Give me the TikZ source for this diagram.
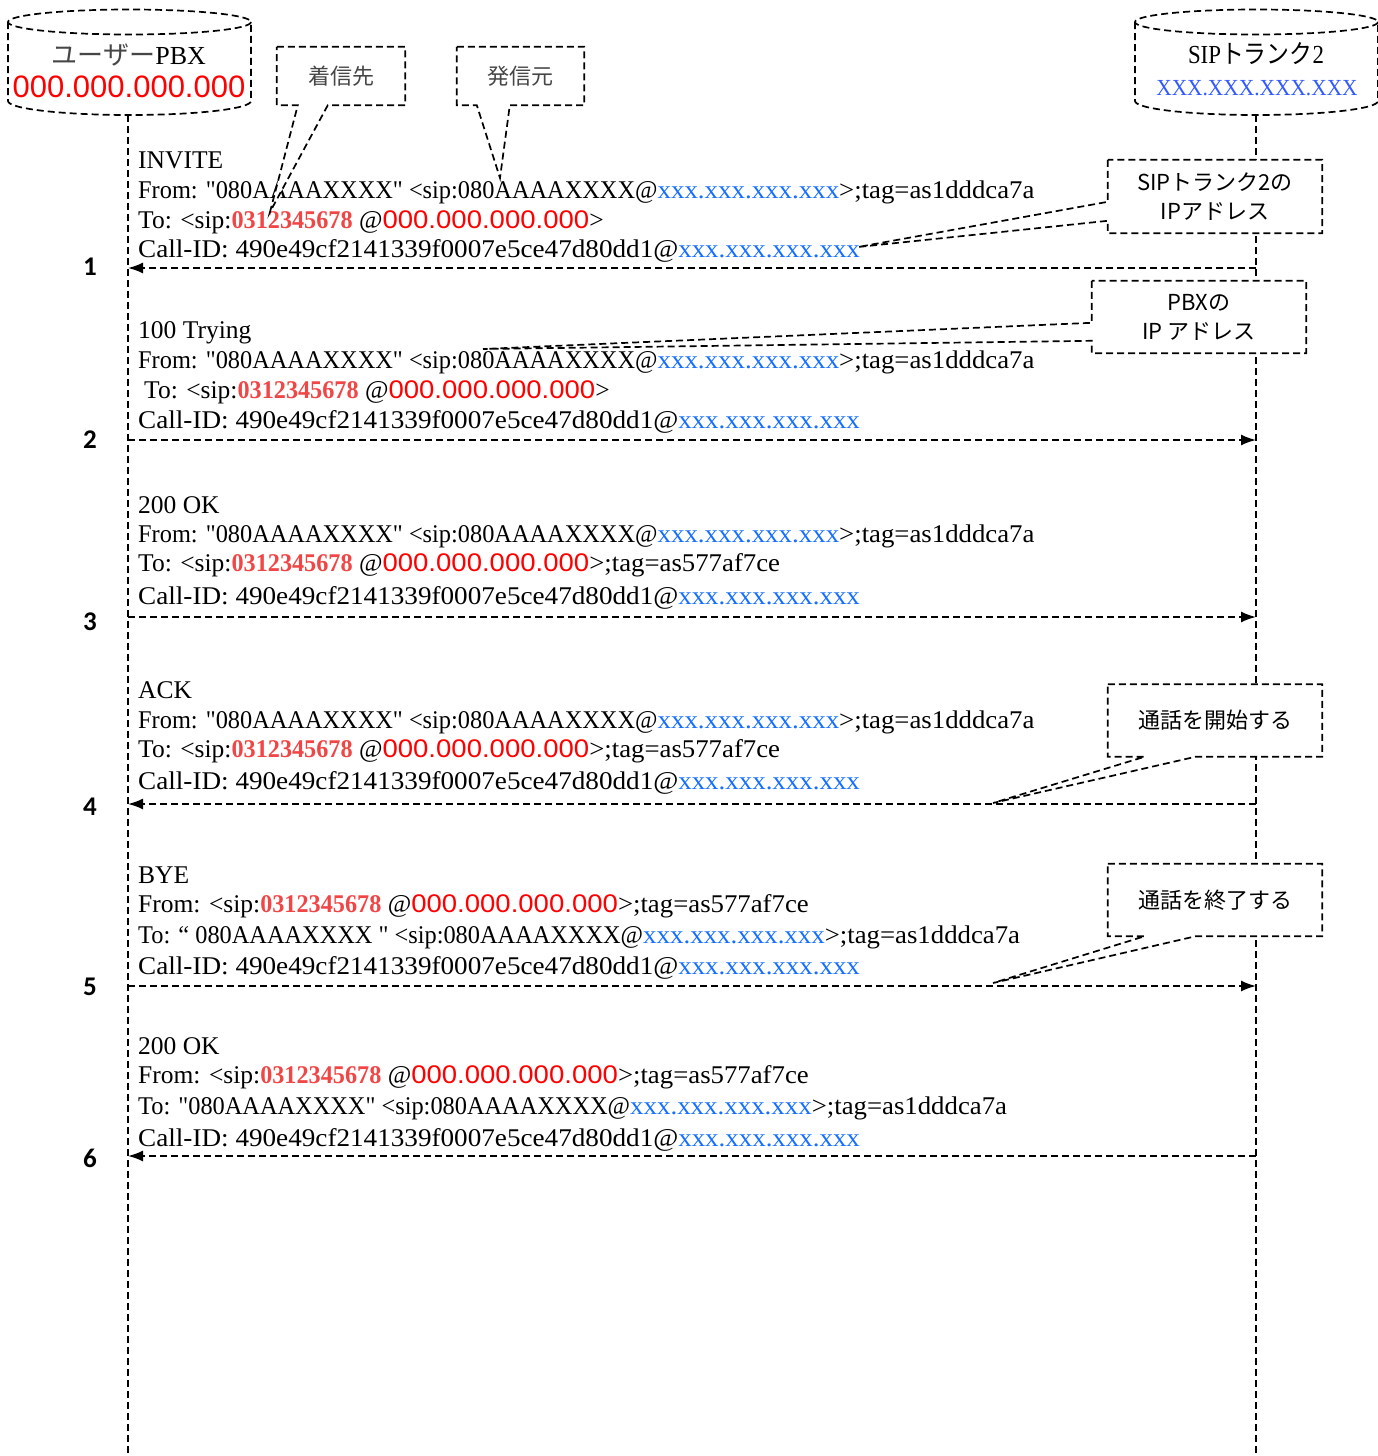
\documentclass[tikz,border=0pt]{standalone}
\usepackage{fontspec}
\setmainfont{Liberation Serif}
\setsansfont{Liberation Sans}
\newfontfamily\jpfont{Noto Sans CJK JP}
\newfontfamily\lblfont{Carlito}
\usetikzlibrary{arrows.meta,calc}
\definecolor{ipred}{RGB}{255,0,0}
\definecolor{numred}{RGB}{240,70,70}
\definecolor{sipblue}{RGB}{20,110,255}
\definecolor{cylblue}{RGB}{50,90,255}
\definecolor{jgray}{RGB}{70,70,70}
\newcommand\dq{\textquotedbl}
\newcommand\bip[1]{\scalebox{1.055}[1]{\textcolor{sipblue}{#1}}}
\newcommand\rnum[1]{\scalebox{0.95}[1]{\bfseries\color{numred}#1}}
\newcommand\rip[1]{\scalebox{1.08}[1]{\sffamily\color{ipred}#1}}
\newcommand\capsq[1]{\scalebox{0.955}[1]{#1}}
\newcommand\tg[1]{\scalebox{1.05}[1]{#1}}
\newcommand\lineFromA{\capsq{From: \dq 080AAAAXXXX\dq{} <sip:080AAAAXXXX@}\bip{xxx.xxx.xxx.xxx}\tg{>;tag=as1dddca7a}}
\newcommand\lineToA{To: <sip:\rnum{0312345678} @\rip{000.000.000.000}>}
\newcommand\lineToB{To: <sip:\rnum{0312345678} @\rip{000.000.000.000}\tg{>;tag=as577af7ce}}
\newcommand\lineFromB{From: <sip:\rnum{0312345678} @\rip{000.000.000.000}\tg{>;tag=as577af7ce}}
\newcommand\lineCallID{\scalebox{1.065}[1]{Call-ID: 490e49cf2141339f0007e5ce47d80dd1@}\bip{xxx.xxx.xxx.xxx}}
\begin{document}
\begin{tikzpicture}[x=1pt,y=-1pt,
  dline/.style={dash pattern=on 7pt off 4pt, line width=1.7pt},
  msg/.style={anchor=base west, inner sep=0pt, font=\fontsize{25.5}{30}\selectfont},
  numlbl/.style={inner sep=0pt, font=\lblfont\bfseries\fontsize{27}{30}\selectfont},
  geom/.style={inner sep=0pt, draw=none},
  callout/.style={dline, fill=white},
  ctext/.style={inner sep=0pt, align=center, font=\jpfont\fontsize{22}{29}\selectfont},
  msgarrow/.style={dline, -{Latex[length=15pt,width=11pt]}}]
\useasboundingbox (0,0) rectangle (1377,1456);

% lifelines
\coordinate (Ltop) at (128,115);
\coordinate (Lbot) at (128,1456);
\coordinate (Rtop) at (1256,115);
\coordinate (Rbot) at (1256,1456);
\draw[dline] (Ltop) -- (Lbot);
\draw[dline] (Rtop) -- (Rbot);

% cylinders
\draw[dline, fill=white] (8,22) -- (8,101) arc[start angle=180, end angle=0, x radius=121.5, y radius=14] -- (251,22);
\draw[dline] (129.5,22) ellipse [x radius=121.5, y radius=12.5];
\draw[dline, fill=white] (1135,22) -- (1135,101) arc[start angle=180, end angle=0, x radius=121.5, y radius=14] -- (1378,22);
\draw[dline] (1256.5,22) ellipse [x radius=121.5, y radius=12.5];

\node[inner sep=0pt, font=\fontsize{26}{30}\selectfont] (pbxT) at (129,55) {{\jpfont\color{jgray}ユーザー}PBX};
\node[inner sep=0pt, font=\fontsize{31}{34}\selectfont] (pbxIP) at (129,87) {{\sffamily\color{ipred}000.000.000.000}};
\node[inner sep=0pt, font=\fontsize{26}{30}\selectfont] (sipT) at (1256,54) {\scalebox{0.88}[1]{SIP{\jpfont トランク}2}};
\node[inner sep=0pt, font=\fontsize{23}{28}\selectfont] (sipIP) at (1257,88) {\scalebox{0.93}[1]{\color{cylblue}XXX.XXX.XXX.XXX}};

% arrows
\coordinate (L1) at (128,268);  \coordinate (R1) at (1256,268);
\coordinate (L2) at (128,440);  \coordinate (R2) at (1256,440);
\coordinate (L3) at (128,617);  \coordinate (R3) at (1256,617);
\coordinate (L4) at (128,804);  \coordinate (R4) at (1256,804);
\coordinate (L5) at (128,986);  \coordinate (R5) at (1256,986);
\coordinate (L6) at (128,1156); \coordinate (R6) at (1256,1156);
\draw[msgarrow] (R1) -- (L1);
\draw[msgarrow] (L2) -- (R2);
\draw[msgarrow] (L3) -- (R3);
\draw[msgarrow] (R4) -- (L4);
\draw[msgarrow] (L5) -- (R5);
\draw[msgarrow] (R6) -- (L6);

% numbers
\node[numlbl] (n1) at (90,267) {1};
\node[numlbl] (n2) at (90,440) {2};
\node[numlbl] (n3) at (90,622) {3};
\node[numlbl] (n4) at (90,807) {4};
\node[numlbl] (n5) at (90,987) {5};
\node[numlbl] (n6) at (90,1158) {6};

% message texts
\node[msg] (m1a) at (138,168) {INVITE};
\node[msg] (m1b) at (138,198) {\lineFromA};
\node[msg] (m1c) at (138,228) {\lineToA};
\node[msg] (m1d) at (138,257) {\lineCallID};

\node[msg] (m2a) at (138,338) {100 Trying};
\node[msg] (m2b) at (138,368) {\lineFromA};
\node[msg] (m2c) at (144,398) {\lineToA};
\node[msg] (m2d) at (138,428) {\lineCallID};

\node[msg] (m3a) at (138,513) {200 OK};
\node[msg] (m3b) at (138,542) {\lineFromA};
\node[msg] (m3c) at (138,571) {\lineToB};
\node[msg] (m3d) at (138,604) {\lineCallID};

\node[msg] (m4a) at (138,698) {ACK};
\node[msg] (m4b) at (138,728) {\lineFromA};
\node[msg] (m4c) at (138,757) {\lineToB};
\node[msg] (m4d) at (138,789) {\lineCallID};

\node[msg] (m5a) at (138,883) {BYE};
\node[msg] (m5b) at (138,912) {\lineFromB};
\node[msg] (m5c) at (138,943) {\capsq{To: “ 080AAAAXXXX \dq{} <sip:080AAAAXXXX@}\bip{xxx.xxx.xxx.xxx}\tg{>;tag=as1dddca7a}};
\node[msg] (m5d) at (138,974) {\lineCallID};

\node[msg] (m6a) at (138,1054) {200 OK};
\node[msg] (m6b) at (138,1083) {\lineFromB};
\node[msg] (m6c) at (138,1114) {\capsq{To: \dq 080AAAAXXXX\dq{} <sip:080AAAAXXXX@}\bip{xxx.xxx.xxx.xxx}\tg{>;tag=as1dddca7a}};
\node[msg] (m6d) at (138,1146) {\lineCallID};

% callouts
\coordinate (tA) at (270,212);
\coordinate (tB) at (500,178);
\coordinate (tC) at (858,247);
\coordinate (tD) at (483,349);
\coordinate (tE) at (993,803);
\coordinate (tF) at (993,983);

\node[geom, minimum width=128, minimum height=58] (cA) at (341,76) {};
\draw[callout] (cA.north west) -- (cA.north east) -- (cA.south east) -- ($(cA.south west)+(51,0)$) -- (tA) -- ($(cA.south west)+(21,0)$) -- (cA.south west) -- cycle;
\node[ctext, text=jgray] (cAt) at (cA) {着信先};

\node[geom, minimum width=127, minimum height=58] (cB) at (520.5,76) {};
\draw[callout] (cB.north west) -- (cB.north east) -- (cB.south east) -- ($(cB.south west)+(53,0)$) -- (tB) -- ($(cB.south west)+(20,0)$) -- (cB.south west) -- cycle;
\node[ctext, text=jgray] (cBt) at (cB) {発信元};

\node[geom, minimum width=214, minimum height=73] (cC) at (1215,196.5) {};
\draw[callout] (cC.north west) -- ($(cC.north west)+(0,42)$) -- (tC) -- ($(cC.north west)+(0,61)$) -- (cC.south west) -- (cC.south east) -- (cC.north east) -- cycle;
\node[ctext] (cCt) at (cC) {SIPトランク2の\\IPアドレス};

\node[geom, minimum width=214, minimum height=72] (cD) at (1199,317) {};
\draw[callout] (cD.north west) -- ($(cD.north west)+(0,42)$) -- (tD) -- ($(cD.north west)+(0,60)$) -- (cD.south west) -- (cD.south east) -- (cD.north east) -- cycle;
\node[ctext] (cDt) at (cD) {PBXの\\IP アドレス};

\node[geom, minimum width=214, minimum height=72] (cE) at (1215,720.5) {};
\draw[callout] (cE.north west) -- (cE.north east) -- (cE.south east) -- ($(cE.south west)+(88,0)$) -- (tE) -- ($(cE.south west)+(37,0)$) -- (cE.south west) -- cycle;
\node[ctext] (cEt) at (cE) {通話を開始する};

\node[geom, minimum width=214, minimum height=72] (cF) at (1215,900) {};
\draw[callout] (cF.north west) -- (cF.north east) -- (cF.south east) -- ($(cF.south west)+(88,0)$) -- (tF) -- ($(cF.south west)+(37,0)$) -- (cF.south west) -- cycle;
\node[ctext] (cFt) at (cF) {通話を終了する};
\end{tikzpicture}
\end{document}
